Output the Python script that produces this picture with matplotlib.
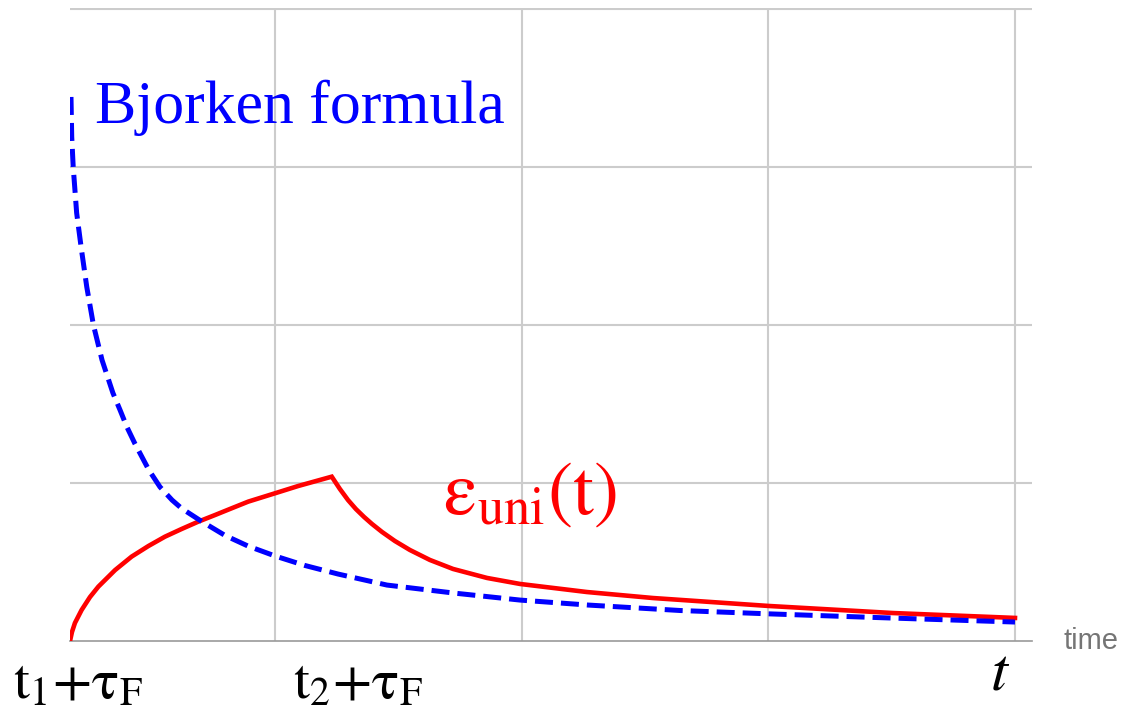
import matplotlib
matplotlib.use("Agg")
import matplotlib.pyplot as plt

plt.rcParams['mathtext.fontset'] = 'stix'
plt.rcParams['font.family'] = ['Liberation Serif', 'DejaVu Serif']

# Bjorken formula (dashed blue)
bj_t = [0.004, 0.007, 0.013, 0.027, 0.045, 0.068, 0.095, 0.130, 0.174, 0.203,
        0.231, 0.264, 0.320, 0.365, 0.414, 0.453, 0.534, 0.629, 0.722, 0.832,
        0.953, 1.087, 1.286, 1.554, 1.826, 2.097, 2.475, 2.832, 3.339, 3.834]
bj_e = [3.443, 3.190, 3.000, 2.709, 2.494, 2.241, 2.000, 1.778, 1.570, 1.462,
        1.354, 1.247, 1.082, 0.975, 0.892, 0.839, 0.757, 0.668, 0.601, 0.538,
        0.478, 0.424, 0.354, 0.304, 0.259, 0.228, 0.193, 0.172, 0.145, 0.120]

# eps_uni(t) (solid red)
uni_t = [0.000, 0.008, 0.020, 0.047, 0.081, 0.115, 0.183, 0.250, 0.318, 0.385,
         0.453, 0.520, 0.588, 0.656, 0.723, 0.832, 0.926, 1.062,
         1.095, 1.128, 1.160, 1.193, 1.225, 1.266, 1.318, 1.379, 1.460, 1.554,
         1.692, 1.826, 2.097, 2.365, 2.832, 3.339, 3.834]
uni_e = [0.000, 0.057, 0.114, 0.196, 0.278, 0.344, 0.449, 0.534, 0.601, 0.660,
         0.709, 0.755, 0.797, 0.840, 0.882, 0.935, 0.981, 1.040,
         0.962, 0.892, 0.835, 0.785, 0.741, 0.690, 0.633, 0.576, 0.513, 0.456,
         0.399, 0.361, 0.310, 0.272, 0.222, 0.177, 0.146]

grid_x = [0.832, 1.832, 2.832, 3.832]
grid_y = [1, 2, 3, 4]

fig = plt.figure(figsize=(11.21, 7.08), dpi=100)
ax = fig.add_axes([70 / 1121, 67 / 708, 962 / 1121, 633 / 708])
ax.set_xlim(0, 3.903)
ax.set_ylim(0, 4.006)

for gx in grid_x:
    ax.axvline(gx, color='#cccccc', lw=1.5, zorder=0)
for gy in grid_y:
    ax.axhline(gy, color='#cccccc', lw=1.5, zorder=0)

ax.plot(uni_t, uni_e, color='red', lw=3.3, solid_joinstyle='miter', zorder=3)
ax.plot(bj_t, bj_e, color='blue', lw=3.6, dashes=(3.6, 1.6), zorder=4)

for s in ['top', 'left', 'right']:
    ax.spines[s].set_visible(False)
ax.spines['bottom'].set_color('#999999')
ax.spines['bottom'].set_linewidth(1.2)
ax.set_xticks([])
ax.set_yticks([])

ax.text(0.101, 3.278, 'Bjorken formula', color='blue', fontsize=44.5, va='baseline')
ax.text(1.515, 0.804, r'$\mathrm{ε_{uni}(t)}$', color='red', fontsize=54, va='baseline')

ax.text(-0.23, -0.361, r'$\mathrm{t_1{+}τ_F}$', fontsize=41, va='baseline', ha='left', clip_on=False)
ax.text(0.905, -0.361, r'$\mathrm{t_2{+}τ_F}$', fontsize=41, va='baseline', ha='left', clip_on=False)
ax.text(3.773, -0.310, r'$t$', fontsize=44, va='baseline', ha='center', clip_on=False)
ax.text(4.03, 0.0, 'time', family='Liberation Sans', color='#757575', fontsize=21,
        va='center', ha='left', clip_on=False)

fig.savefig('out.png', dpi=100)
